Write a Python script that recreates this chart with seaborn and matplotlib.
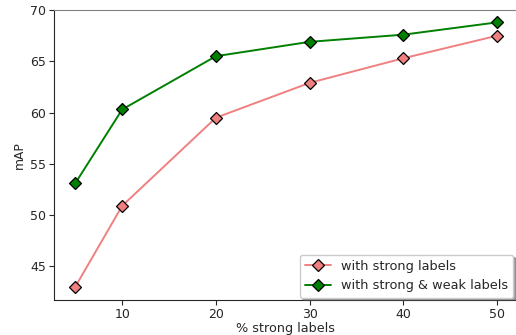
import numpy as np
import pandas as pd
import matplotlib
matplotlib.use("Agg")
import matplotlib.pyplot as plt
import seaborn as sns

pct_strong = [5, 10, 20, 30, 40, 50]
map_strong = [43.0, 50.9, 59.5, 62.9, 65.3, 67.5]
map_strong_weak = [53.1, 60.3, 65.5, 66.9, 67.6, 68.8]

df = pd.DataFrame({
    "pct": pct_strong * 2,
    "mAP": map_strong + map_strong_weak,
    "series": ["with strong labels"] * 6 + ["with strong & weak labels"] * 6,
})

sns.set_style("ticks")
plt.rcParams["font.family"] = ["DejaVu Sans"]

fig = plt.figure(figsize=(5.16, 3.35), dpi=100)
ax = fig.add_axes([0.105, 0.104, 0.895, 0.866])

sns.lineplot(data=df, x="pct", y="mAP", hue="series",
             palette={"with strong labels": "#f08080",
                      "with strong & weak labels": "green"},
             marker="D", markersize=6.5, markeredgecolor="black",
             markeredgewidth=0.9, linewidth=1.4, ax=ax)

ax.set_xlim(2.75, 52.0)
ax.set_ylim(41.7, 70)
ax.set_xticks([10, 20, 30, 40, 50])
ax.set_yticks([45, 50, 55, 60, 65, 70])
ax.tick_params(labelsize=9, length=3.5, pad=2.5)
ax.set_xlabel("% strong labels", fontsize=9.2, labelpad=0.5)
ax.set_ylabel("mAP", fontsize=8.8, labelpad=3)
ax.spines["top"].set_color("gray")
ax.spines["right"].set_visible(False)

leg = ax.legend(loc="lower right", fontsize=9.3, shadow=True, fancybox=True,
                frameon=True, borderaxespad=0.2, handlelength=2.0,
                edgecolor="#cccccc")
leg.set_title(None)

fig.savefig("out.png", dpi=100)
